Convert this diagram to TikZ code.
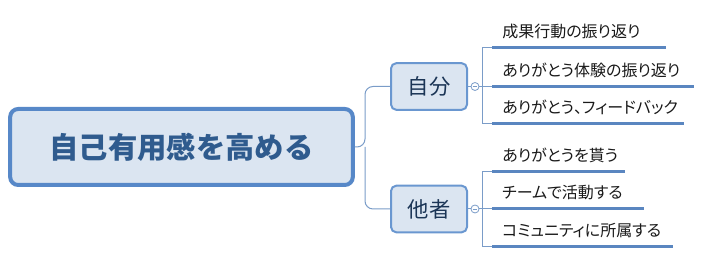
\documentclass[tikz,border=0pt]{standalone}
\usepackage{fontspec}
\newfontfamily\jpfont{Noto Sans CJK JP}
\newfontfamily\jpleaf[RawFeature=+palt]{Noto Sans CJK JP}
\definecolor{rootfill}{HTML}{DBE5F1}
\definecolor{rootline}{HTML}{5788C8}
\definecolor{roottext}{HTML}{2F5B8E}
\definecolor{branchline}{HTML}{6A97D0}
\definecolor{branchtext}{HTML}{1B3556}
\definecolor{linkcolor}{HTML}{7A9CC8}
\definecolor{leafline}{HTML}{5A86C0}
\begin{document}
\begin{tikzpicture}[x=0.75pt,y=-0.75pt]

	% Define node styles
	\tikzstyle{root node} = [draw=rootline, line width=3pt, fill=rootfill, rounded corners=6pt, minimum width=257pt, minimum height=57pt, text=roottext, font=\jpfont\bfseries\fontsize{22}{26}\selectfont]
	\tikzstyle{branch node} = [draw=branchline, line width=1.5pt, fill=rootfill, rounded corners=4pt, minimum width=57pt, minimum height=35pt, text=branchtext, font=\jpfont\fontsize{16}{19}\selectfont]
	\tikzstyle{toggle} = [circle, draw=linkcolor, line width=0.6pt, fill=white, minimum size=6pt, inner sep=0pt,
		path picture={\draw[linkcolor, line width=0.5pt] ([xshift=1.3pt]path picture bounding box.west) -- ([xshift=-1.3pt]path picture bounding box.east);}]
	\tikzstyle{leaf node} = [anchor=south west, align=left, inner xsep=7.5pt, inner ysep=4.4pt, text height=9pt, text depth=3pt, text=black!90, font=\jpleaf\fontsize{12}{14}\selectfont]
	\tikzstyle{link} = [draw=linkcolor, line width=0.75pt]
	\tikzstyle{underline} = [draw=leafline, line width=2.25pt]

	\useasboundingbox (0,0) rectangle (715,266);

	% Place nodes
	\node[root node] (root) at (181.5,147) {自己有用感を高める};
	\node[branch node] (self) at (429,86.5) {自分};
	\node[branch node] (others) at (429,209) {他者};
	\node[toggle] (t1) at (475,86.5) {};
	\node[toggle] (t2) at (475,209) {};
	\coordinate (hub) at (365,147);
	\coordinate (j1) at (482,86.5);
	\coordinate (j2) at (482,209);

	% Leaves with their underlines
	\foreach \name/\y/\len/\txt in {
		s1/48/173/成果行動の振り返り,
		s2/87/201/ありがとう体験の振り返り,
		s3/124/191/ありがとう、フィードバック,
		o1/172/132/ありがとうを貰う,
		o2/209/151/チームで活動する,
		o3/247/180/コミュニティに所属する}
	{
		\pgfmathsetmacro\tw{\len*0.75-15}
		\node[leaf node, text width=\tw pt] (\name) at (492,\y) {\txt};
		\draw[underline] (\name.south west) -- (\name.south east);
	}

	% Draw edges
	\draw[link, rounded corners=6pt] (root.east) -- (hub) |- (self.west);
	\draw[link, rounded corners=6pt] (hub) |- (others.west);
	\path (self) edge[link] (t1) (others) edge[link] (t2);
	\draw[link] (t1.east) -- (j1);
	\draw[link] (t2.east) -- (j2);
	\foreach \source/\dest in {j1/s1, j1/s2, j1/s3, j2/o1, j2/o2, j2/o3}
	\draw[link] (\source) |- (\dest.south west);

\end{tikzpicture}
\end{document}
